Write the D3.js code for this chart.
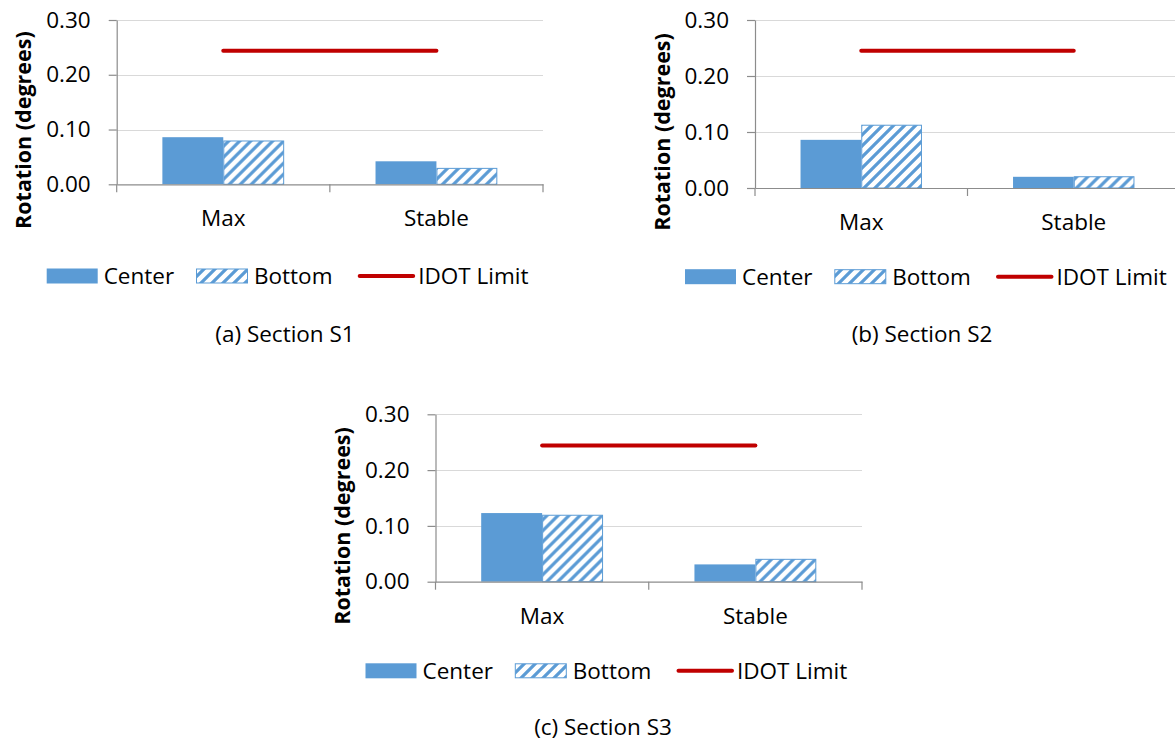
<!DOCTYPE html>
<html>
<head>
<meta charset="utf-8">
<script src="https://cdn.jsdelivr.net/npm/d3@7"></script>
<style>
  html, body { margin: 0; padding: 0; background: #fff; }
  svg { display: block; }
  text { font-family: "Open Sans", "Noto Sans", sans-serif; fill: #000; }
</style>
</head>
<body>
<svg id="chart" width="1175" height="742"></svg>
<script>
// ---------------- data ----------------
const categories = ["Max", "Stable"];
const seriesNames = ["Center", "Bottom", "IDOT Limit"];
const yTicks = [0.00, 0.10, 0.20, 0.30];
const yTitle = "Rotation (degrees)";

const s1Center = [0.086, 0.042];
const s1Bottom = [0.080, 0.030];
const s1Limit  = [0.244, 0.244];

const s2Center = [0.086, 0.020];
const s2Bottom = [0.113, 0.021];
const s2Limit  = [0.245, 0.245];

const s3Center = [0.123, 0.031];
const s3Bottom = [0.120, 0.041];
const s3Limit  = [0.244, 0.244];

const captions = ["(a) Section S1", "(b) Section S2", "(c) Section S3"];

// ---------------- layout ----------------
const layouts = [
  { left: 116.7, right: 543,  top: 20,    bottom: 184.3, legendY: 276,   capX: 285, capY: 342 },
  { left: 755,   right: 1180, top: 20,    bottom: 188,   legendY: 276.7, capX: 922, capY: 342 },
  { left: 435.5, right: 862,  top: 414.3, bottom: 581.7, legendY: 670.8, capX: 603, capY: 735 }
];

const panels = [
  { center: s1Center, bottom: s1Bottom, limit: s1Limit, caption: captions[0], layout: layouts[0] },
  { center: s2Center, bottom: s2Bottom, limit: s2Limit, caption: captions[1], layout: layouts[1] },
  { center: s3Center, bottom: s3Bottom, limit: s3Limit, caption: captions[2], layout: layouts[2] }
];

const BLUE = "#5B9BD5";
const RED = "#C00000";
const GRID = "#D9D9D9";
const AXIS = "#8C8C8C";
const FS = 22.5;

const svg = d3.select("#chart");

// hatch pattern ("/" stripes)
const P = 11;
const defs = svg.append("defs");
const pat = defs.append("pattern")
  .attr("id", "hatch")
  .attr("patternUnits", "userSpaceOnUse")
  .attr("width", P).attr("height", P);
pat.append("rect").attr("width", P).attr("height", P).attr("fill", "#fff");
pat.append("path")
  .attr("d", `M0,${P} L${P},0 M${-P/2},${P/2} L${P/2},${-P/2} M${P/2},${P*1.5} L${P*1.5},${P/2}`)
  .attr("stroke", BLUE).attr("stroke-width", 3.2);

panels.forEach(p => {
  const L = p.layout;
  const g = svg.append("g");

  const y = d3.scaleLinear().domain([0, 0.3]).range([L.bottom, L.top]);
  const x0 = d3.scaleBand().domain(categories).range([L.left, L.right]).padding(0);
  const x1 = d3.scaleBand().domain(["Center", "Bottom"]).range([0, x0.bandwidth()])
    .paddingInner(0).paddingOuter(0.75);

  // gridlines
  g.append("g").selectAll("line")
    .data(yTicks.filter(d => d > 0))
    .join("line")
    .attr("x1", L.left).attr("x2", L.right)
    .attr("y1", d => Math.round(y(d)) + 0.5).attr("y2", d => Math.round(y(d)) + 0.5)
    .attr("stroke", GRID).attr("stroke-width", 1.2);

  // bars
  const rows = categories.map((c, i) => ({ cat: c, Center: p.center[i], Bottom: p.bottom[i] }));
  const groups = g.append("g").selectAll("g")
    .data(rows).join("g")
    .attr("transform", d => `translate(${x0(d.cat)},0)`);

  groups.append("rect")
    .attr("x", x1("Center"))
    .attr("width", x1.bandwidth())
    .attr("y", d => y(d.Center))
    .attr("height", d => y(0) - y(d.Center))
    .attr("fill", BLUE);

  groups.append("rect")
    .attr("x", x1("Bottom") + 0.5)
    .attr("width", x1.bandwidth() - 1)
    .attr("y", d => y(d.Bottom) + 0.5)
    .attr("height", d => y(0) - y(d.Bottom) - 0.5)
    .attr("fill", "url(#hatch)")
    .attr("stroke", BLUE).attr("stroke-width", 1);

  // y axis
  const yAxis = d3.axisLeft(y).tickValues(yTicks).tickFormat(d3.format(".2f"))
    .tickSize(8).tickSizeOuter(0).tickPadding(18);
  const ya = g.append("g").attr("transform", `translate(${L.left},0)`).call(yAxis);
  ya.select(".domain").attr("stroke", AXIS).attr("stroke-width", 1.2);
  ya.selectAll(".tick line").attr("stroke", AXIS).attr("stroke-width", 1.2);
  ya.selectAll(".tick text").attr("font-size", FS).attr("fill", "#000")
    .style("font-family", "'Open Sans', sans-serif");

  // x axis
  const xAxis = d3.axisBottom(x0).tickSize(0).tickSizeOuter(0).tickPadding(26);
  const xa = g.append("g").attr("transform", `translate(0,${L.bottom})`).call(xAxis);
  xa.select(".domain").attr("stroke", AXIS).attr("stroke-width", 1.2);
  xa.selectAll(".tick text").attr("font-size", FS).attr("fill", "#000")
    .style("font-family", "'Open Sans', sans-serif");
  // category boundary ticks
  const bounds = categories.map(c => x0(c)).concat([x0.range()[1]]);
  xa.append("g").selectAll("line").data(bounds).join("line")
    .attr("x1", d => d).attr("x2", d => d)
    .attr("y1", 0).attr("y2", 8)
    .attr("stroke", AXIS).attr("stroke-width", 1.2);

  // IDOT limit line
  const line = d3.line()
    .x((d, i) => x0(categories[i]) + x0.bandwidth() / 2)
    .y(d => y(d));
  g.append("path").datum(p.limit)
    .attr("d", line)
    .attr("fill", "none")
    .attr("stroke", RED).attr("stroke-width", 4)
    .attr("stroke-linecap", "round");

  // y title
  const tx = L.left - 85.5;
  const ty = (L.top + L.bottom) / 2 + 28;
  g.append("text")
    .attr("transform", `translate(${tx},${ty}) rotate(-90)`)
    .attr("text-anchor", "middle")
    .attr("font-size", 21.5)
    .attr("font-weight", "bold")
    .text(yTitle);

  // legend
  const lx = L.left - 70;
  const ly = L.legendY;
  const leg = g.append("g");
  const offs = [0, 149.3, 313];
  // Center
  leg.append("rect").attr("x", lx + offs[0]).attr("y", ly - 7.5)
    .attr("width", 51).attr("height", 15).attr("fill", BLUE);
  leg.append("text").attr("x", lx + offs[0] + 57).attr("y", ly).attr("dy", "0.35em")
    .attr("font-size", FS).text(seriesNames[0]);
  // Bottom
  leg.append("rect").attr("x", lx + offs[1] + 0.5).attr("y", ly - 7)
    .attr("width", 51).attr("height", 14).attr("fill", "url(#hatch)")
    .attr("stroke", BLUE).attr("stroke-width", 1);
  leg.append("text").attr("x", lx + offs[1] + 58).attr("y", ly).attr("dy", "0.35em")
    .attr("font-size", FS).text(seriesNames[1]);
  // IDOT
  leg.append("line").attr("x1", lx + offs[2]).attr("x2", lx + offs[2] + 53.5)
    .attr("y1", ly).attr("y2", ly)
    .attr("stroke", RED).attr("stroke-width", 4).attr("stroke-linecap", "round");
  leg.append("text").attr("x", lx + offs[2] + 58.5).attr("y", ly).attr("dy", "0.35em")
    .attr("font-size", FS).text(seriesNames[2]);

  // caption
  g.append("text").attr("x", L.capX).attr("y", L.capY)
    .attr("text-anchor", "middle").attr("font-size", FS)
    .text(p.caption);
});
</script>
</body>
</html>
